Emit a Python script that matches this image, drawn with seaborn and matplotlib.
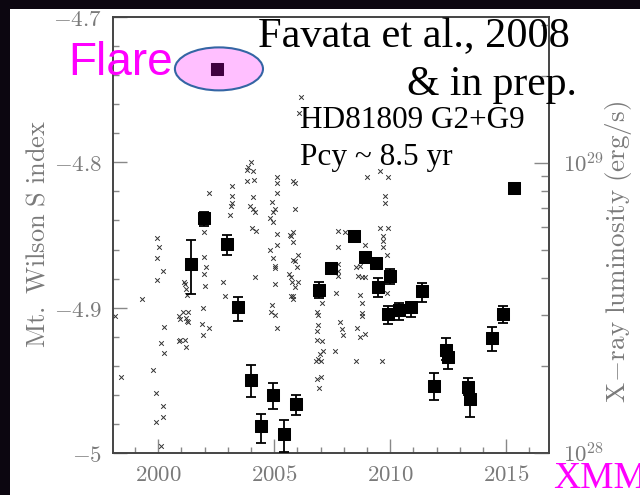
import numpy as np
import matplotlib
matplotlib.use('Agg')
import matplotlib.pyplot as plt
from matplotlib.patches import Ellipse, Rectangle
from matplotlib.ticker import FixedLocator, FixedFormatter, MultipleLocator, FuncFormatter, LogLocator
import seaborn as sns

# Mt. Wilson S index measurements (crosses)
s_year = [1998.15, 1998.41, 1999.31, 1999.96, 2000.04, 1999.96, 2000.22, 1999.96, 2000.26, 2000.13,
          2000.26, 1999.78, 1999.91, 2000.22, 2000.22, 1999.91, 2000.13,
          2001.12, 2001.16, 2001.21, 2001.25, 2001.08, 2001.29, 2000.91, 2000.95, 2001.21, 2001.25,
          2001.29, 2000.91, 2000.95, 2001.16, 2001.21, 2001.98, 2001.98, 2002.07, 2001.98, 2002.03,
          2001.94, 2001.90, 2002.20, 2001.94, 2002.20,
          2003.19, 2003.19, 2003.19, 2003.15, 2003.10, 2004.01, 2003.88, 2003.84, 2004.09, 2003.84,
          2004.14, 2004.09, 2003.97, 2004.09, 2004.18, 2004.05, 2004.22, 2004.18, 2002.80, 2002.89,
          2005.13, 2005.13, 2005.91, 2005.82, 2005.13, 2004.91, 2004.96, 2005.04, 2004.83, 2004.96,
          2005.91, 2005.82, 2005.69, 2005.73, 2005.82, 2005.13, 2005.13, 2004.83, 2004.96, 2005.04,
          2005.04, 2006.03, 2005.82, 2005.91, 2005.99, 2005.65, 2005.73, 2005.78, 2006.03, 2005.04,
          2005.91, 2005.82, 2005.73, 2004.91, 2004.87, 2005.04, 2005.13, 2005.82, 2006.16, 2006.08,
          2007.07, 2006.85, 2006.90, 2006.90, 2006.85, 2006.85, 2007.07, 2007.11, 2006.98, 2006.90,
          2006.81, 2007.03, 2006.85, 2007.03, 2006.94, 2007.76, 2008.06, 2007.76, 2007.76, 2007.76,
          2007.76, 2007.67, 2007.84, 2007.93, 2007.97, 2007.63,
          2008.53, 2008.71, 2008.62, 2008.79, 2008.92, 2008.92, 2009.01, 2009.57, 2009.91, 2009.78,
          2009.78, 2009.57, 2009.91, 2009.70, 2009.70, 2009.70, 2009.87, 2008.71, 2009.87, 2008.79,
          2008.79, 2008.79, 2008.58, 2008.71, 2008.92, 2008.53, 2009.66]
s_index = [-4.906, -4.948, -4.894, -4.852, -4.858, -4.866, -4.875, -4.881, -4.913, -4.924,
           -4.931, -4.943, -4.959, -4.968, -4.975, -4.979, -4.995,
           -4.882, -4.884, -4.887, -4.891, -4.903, -4.903, -4.906, -4.908, -4.907, -4.909,
           -4.910, -4.923, -4.922, -4.922, -4.927, -4.848, -4.865, -4.872, -4.877, -4.885,
           -4.900, -4.911, -4.914, -4.919, -4.821,
           -4.816, -4.823, -4.828, -4.830, -4.836, -4.800, -4.803, -4.805, -4.806, -4.813,
           -4.812, -4.824, -4.830, -4.832, -4.834, -4.845, -4.847, -4.879, -4.882, -4.892,
           -4.810, -4.814, -4.814, -4.813, -4.821, -4.827, -4.834, -4.832, -4.838, -4.841,
           -4.832, -4.848, -4.850, -4.851, -4.855, -4.849, -4.857, -4.860, -4.866, -4.871,
           -4.873, -4.864, -4.867, -4.868, -4.872, -4.877, -4.879, -4.882, -4.882, -4.884,
           -4.886, -4.892, -4.892, -4.898, -4.903, -4.905, -4.914, -4.894, -4.755, -4.766,
           -4.897, -4.903, -4.905, -4.912, -4.916, -4.922, -4.923, -4.930, -4.932, -4.935,
           -4.937, -4.937, -4.949, -4.948, -4.955, -4.847, -4.848, -4.858, -4.870, -4.875,
           -4.878, -4.890, -4.910, -4.915, -4.919, -4.930,
           -4.872, -4.871, -4.878, -4.879, -4.879, -4.857, -4.810, -4.806, -4.810, -4.823,
           -4.828, -4.845, -4.845, -4.851, -4.854, -4.858, -4.864, -4.891, -4.890, -4.897,
           -4.904, -4.906, -4.914, -4.920, -4.918, -4.937, -4.937]

# XMM X-ray luminosity, in units of 1e28 erg/s, with error bar ends
xmm_year = [2001.42, 2001.98, 2002.97, 2003.45, 2004.01, 2004.44, 2004.96, 2005.43, 2005.95, 2006.94,
            2007.46, 2008.45, 2008.92, 2009.40, 2009.48, 2010.00, 2009.91, 2010.39, 2010.91, 2011.38,
            2011.90, 2012.41, 2012.50, 2013.36, 2013.45, 2014.40, 2014.87, 2015.34]
xmm_lum = [4.48, 6.46, 5.26, 3.19, 1.79, 1.24, 1.585, 1.16, 1.475, 3.65,
           4.34, 5.60, 4.74, 4.52, 3.74, 4.08, 3.02, 3.11, 3.19, 3.62,
           1.70, 2.27, 2.14, 1.69, 1.54, 2.49, 3.02, 8.20]
xmm_lo = [3.53, 6.06, 4.82, 2.85, 1.56, 1.08, 1.42, 1.008, 1.35, 3.42,
          4.18, 5.40, 4.52, 4.34, 3.45, 3.83, 2.79, 2.87, 2.94, 3.32,
          1.52, 2.10, 1.95, 1.58, 1.33, 2.25, 2.81, 8.0]
xmm_hi = [5.43, 6.78, 5.65, 3.45, 2.01, 1.36, 1.74, 1.30, 1.585, 3.89,
          4.52, 5.80, 4.95, 4.70, 4.01, 4.31, 3.21, 3.29, 3.32, 3.86,
          1.89, 2.49, 2.30, 1.81, 1.65, 2.72, 3.21, 8.4]
flare_year = [2002.54]
flare_lum = [21.1]

sns.set_style('white')
plt.rcParams['mathtext.fontset'] = 'cm'

fig = plt.figure(figsize=(6.4, 4.95), dpi=100, facecolor='#0c0610')
fig.add_artist(Rectangle((10 / 640, 0), 630 / 640, 486 / 495, transform=fig.transFigure,
                         facecolor='white', edgecolor='none', zorder=-5))
ax = fig.add_axes([113 / 640, 42 / 495, 436 / 640, 436 / 495])

sns.scatterplot(x=s_year, y=s_index, marker='x', color='#333333', s=11, linewidth=0.7, ax=ax, zorder=2)
ax.set_xlim(1998.05, 2016.85)
ax.set_ylim(-5, -4.7)

ax2 = ax.twinx()
ax2.set_yscale('log')
lum = np.array(xmm_lum) * 1e28
lo = np.array(xmm_lo) * 1e28
hi = np.array(xmm_hi) * 1e28
ax2.errorbar(xmm_year, lum, yerr=[lum - lo, hi - lum], fmt='none', ecolor='black',
             elinewidth=1.3, capsize=3.5, capthick=1.3, zorder=3)
sns.scatterplot(x=xmm_year, y=lum, marker='s', color='black', edgecolor='black', s=85, ax=ax2, zorder=4)
sns.scatterplot(x=flare_year, y=np.array(flare_lum) * 1e28, marker='s', color='black',
                edgecolor='black', s=85, ax=ax2, zorder=4)
ax2.set_ylim(1e28, 10 ** 29.503)
ax2.add_patch(Ellipse((0.243, 0.881), 0.202, 0.0986, transform=ax2.transAxes,
                      facecolor=(1, 0, 1, 0.25), edgecolor='#3465a4', lw=1.5, zorder=6))

# ticks
ax.xaxis.set_major_locator(MultipleLocator(5))
ax.xaxis.set_minor_locator(MultipleLocator(1))
ax.xaxis.set_major_formatter(FuncFormatter(lambda v, p: f'${v:.0f}$'))
ax.yaxis.set_major_locator(FixedLocator([-5, -4.9, -4.8, -4.7]))
ax.yaxis.set_major_formatter(FixedFormatter(['$-5$', '$-4.9$', '$-4.8$', '$-4.7$']))
ax.yaxis.set_minor_locator(MultipleLocator(0.02))
ax.tick_params(which='both', direction='in', bottom=True, left=True, top=False, right=False,
               color='#888888', labelcolor='#7a7a7a', labelsize=16.5)
ax.tick_params(which='major', length=10, width=1)
ax.tick_params(which='minor', length=4.5, width=1)
ax.tick_params(axis='x', pad=7)
ax.tick_params(axis='y', pad=8)

ax2.yaxis.set_major_locator(FixedLocator([1e28, 1e29]))
ax2.yaxis.set_major_formatter(FixedFormatter([r'$10^{28}$', r'$10^{29}$']))
ax2.yaxis.set_minor_locator(LogLocator(base=10, subs=np.arange(2, 10)))
ax2.yaxis.set_minor_formatter(FuncFormatter(lambda v, p: ''))
ax2.tick_params(axis='y', which='both', direction='in', right=True, left=False,
                color='#888888', labelcolor='#7a7a7a', labelsize=16.5, pad=10)
ax2.tick_params(axis='y', which='major', length=11, width=1)
ax2.tick_params(axis='y', which='minor', length=6, width=1)

for a in (ax, ax2):
    for sp in a.spines.values():
        sp.set_color('#444444')
        sp.set_linewidth(1.2)

fig.text(38 / 640, 1 - 234 / 495, r'$\mathrm{Mt.\ Wilson\ S\ index}$', rotation=90,
         ha='center', va='center', color='#7a7a7a', fontsize=19)
fig.text(619 / 640, 1 - 252 / 495, r'$\mathrm{X\!-\!ray\ luminosity\ (erg/s)}$', rotation=90,
         ha='center', va='center', color='#7a7a7a', fontsize=19.5)

# annotations
fig.text(258 / 640, 1 - 47 / 495, 'Favata et al., 2008', family='Liberation Serif',
         fontsize=30.5, color='black', va='baseline')
fig.text(407 / 640, 1 - 95 / 495, '& in prep.', family='Liberation Serif',
         fontsize=30, color='black', va='baseline')
fig.text(300 / 640, 1 - 128 / 495, 'HD81809 G2+G9', family='Liberation Serif',
         fontsize=22.5, color='black', va='baseline')
fig.text(300 / 640, 1 - 165 / 495, 'Pcy ~ 8.5 yr', family='Liberation Serif',
         fontsize=22.5, color='black', va='baseline')
fig.text(68 / 640, 1 - 75 / 495, 'Flare', family='Liberation Sans',
         fontsize=33, color='#ff00ff', va='baseline')
fig.text(553 / 640, 1 - 488 / 495, 'XMM', family='Liberation Serif',
         fontsize=27, color='#ff00ff', va='baseline')

fig.savefig('out.png', dpi=100, facecolor=fig.get_facecolor())
